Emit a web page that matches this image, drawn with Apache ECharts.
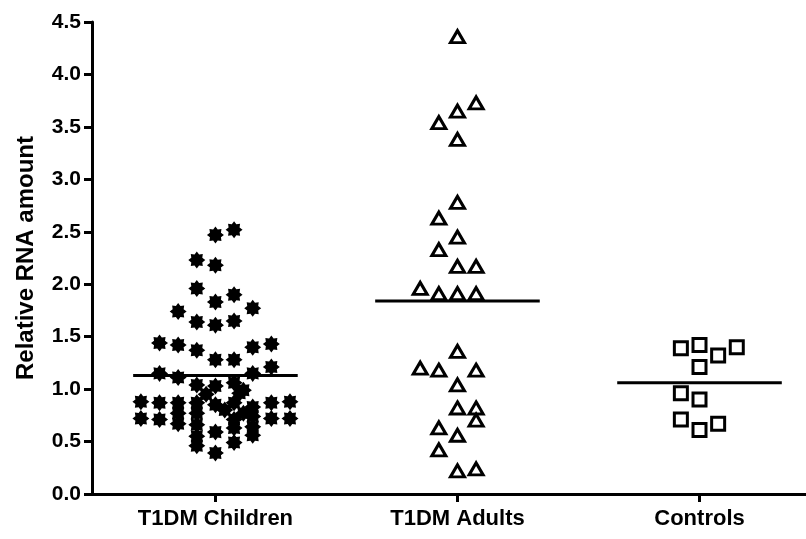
<!DOCTYPE html>
<html>
<head>
<meta charset="utf-8">
<script src="https://cdn.jsdelivr.net/npm/echarts@6/dist/echarts.min.js"></script>
<style>
  html, body { margin: 0; padding: 0; background: #fff; }
  #chart { width: 806px; height: 539px; }
</style>
</head>
<body>
<div id="chart"></div>
<script>
// ---- data ----
var categories = ['T1DM Children', 'T1DM Adults', 'Controls'];
var yTicks = [0, 0.5, 1, 1.5, 2, 2.5, 3, 3.5, 4, 4.5];

// horizontal jitter slot of each point (slot index around the group centre), and value
var childrenSlots = [0, 1, -1, 0, -1, 0, 1, -2, -1, 0, 1, 2, -3, -2, -1, 0, 1, 2, 3, -3, -2, -1, 0, 1, 1.5, 2, 3,
  -4, -4, -3, -3, -2, -2, -2, -1, -1, -1, -1, -1, -0.5, 0, 0, 0, 0.5, 1, 1, 1, 1, 1.5, 1.3, 2, 2, 2, 2, 3, 3, 4, 4];
var childrenValues = [2.47, 2.52, 2.23, 2.18, 1.96, 1.83, 1.90, 1.74, 1.64, 1.61, 1.65, 1.77, 1.44, 1.42, 1.37, 1.28, 1.28, 1.40, 1.43, 1.15, 1.11, 1.04, 1.03, 1.06, 0.99, 1.15, 1.21,
  0.88, 0.72, 0.87, 0.71, 0.87, 0.77, 0.67, 0.87, 0.77, 0.66, 0.55, 0.46, 0.95, 0.59, 0.39, 0.85, 0.80, 0.71, 0.49, 0.63, 0.87, 0.77, 0.96, 0.83, 0.74, 0.64, 0.56, 0.87, 0.72, 0.88, 0.72];

var adultsSlots = [0, 1, 0, -1, 0, 0, -1, 0, -1, 0, 1, -2, -1, 0, 1, 0, -2, -1, 1, 0, 0, 1, 1, -1, 0, -1, 0, 1];
var adultsValues = [4.36, 3.73, 3.65, 3.54, 3.38, 2.78, 2.63, 2.45, 2.33, 2.17, 2.17, 1.96, 1.91, 1.91, 1.91, 1.36, 1.20, 1.18, 1.18, 1.04, 0.82, 0.82, 0.705, 0.63, 0.56, 0.42, 0.22, 0.24];

var controlsSlots = [-1, 0, 1, 2, 0, -1, 0, -1, 0, 1];
var controlsValues = [1.39, 1.42, 1.32, 1.40, 1.21, 0.96, 0.90, 0.71, 0.61, 0.67];

var groupMeans = [1.13, 1.84, 1.06];

// ---- layout / style constants ----
var SLOT = 0.077;        // width of one jitter slot in x units
var HALF_LINE = 0.34;    // half width of mean line in x units
var FONT = '"Liberation Sans", Arial, Helvetica, sans-serif';

function pts(groupIndex, slots, values) {
  return values.map(function (v, i) { return [groupIndex + slots[i] * SLOT, v]; });
}
function meanLine(groupIndex) {
  return [[groupIndex - HALF_LINE, groupMeans[groupIndex]], [groupIndex + HALF_LINE, groupMeans[groupIndex]]];
}

var asterisk = 'path://M100,50 L82.3,63.4 L85.4,85.4 L63.4,82.3 L50,100 L36.6,82.3 L14.6,85.4 L17.7,63.4 L0,50 L17.7,36.6 L14.6,14.6 L36.6,17.7 L50,0 L63.4,17.7 L85.4,14.6 L82.3,36.6 Z';

var chart = echarts.init(document.getElementById('chart'), null, { renderer: 'canvas' });
chart.setOption({
  animation: false,
  backgroundColor: '#ffffff',
  grid: { left: 92, right: 0, top: 22, bottom: 45, containLabel: false },
  xAxis: {
    type: 'value',
    min: -0.51,
    max: 2.44,
    splitLine: { show: false },
    axisLine: { show: true, onZero: false, lineStyle: { color: '#000', width: 3 } },
    axisTick: { show: true, customValues: [0, 1, 2], length: 8, lineStyle: { color: '#000', width: 3 } },
    axisLabel: {
      show: true,
      customValues: [0, 1, 2],
      formatter: function (v) { return categories[Math.round(v)]; },
      color: '#000', fontFamily: FONT, fontWeight: 'bold', fontSize: 22, margin: 14
    }
  },
  yAxis: {
    type: 'value',
    min: 0,
    max: 4.5,
    interval: 0.5,
    name: 'Relative RNA amount',
    nameLocation: 'middle',
    nameGap: 54,
    nameTextStyle: { color: '#000', fontFamily: FONT, fontWeight: 'bold', fontSize: 24 },
    splitLine: { show: false },
    axisLine: { show: true, onZero: false, lineStyle: { color: '#000', width: 3 } },
    axisTick: { show: true, length: 8, lineStyle: { color: '#000', width: 3 } },
    axisLabel: {
      color: '#000', fontFamily: FONT, fontWeight: 'bold', fontSize: 21, margin: 11,
      formatter: function (v) { return v.toFixed(1); }
    }
  },
  series: [
    { type: 'line', data: meanLine(0), symbol: 'none', lineStyle: { color: '#000', width: 3 }, z: 1 },
    { type: 'line', data: meanLine(1), symbol: 'none', lineStyle: { color: '#000', width: 3 }, z: 1 },
    { type: 'line', data: meanLine(2), symbol: 'none', lineStyle: { color: '#000', width: 3 }, z: 1 },
    {
      name: categories[0], type: 'scatter', data: pts(0, childrenSlots, childrenValues),
      symbol: asterisk, symbolSize: 17, itemStyle: { color: '#000', opacity: 1 }, z: 3
    },
    {
      name: categories[1], type: 'scatter', data: pts(1, adultsSlots, adultsValues),
      symbol: 'triangle', symbolSize: [14, 12],
      itemStyle: { color: '#fff', borderColor: '#000', borderWidth: 3, opacity: 1 }, z: 3
    },
    {
      name: categories[2], type: 'scatter', data: pts(2, controlsSlots, controlsValues),
      symbol: 'rect', symbolSize: 13,
      itemStyle: { color: '#fff', borderColor: '#000', borderWidth: 3, opacity: 1 }, z: 3
    }
  ]
});
</script>
</body>
</html>
